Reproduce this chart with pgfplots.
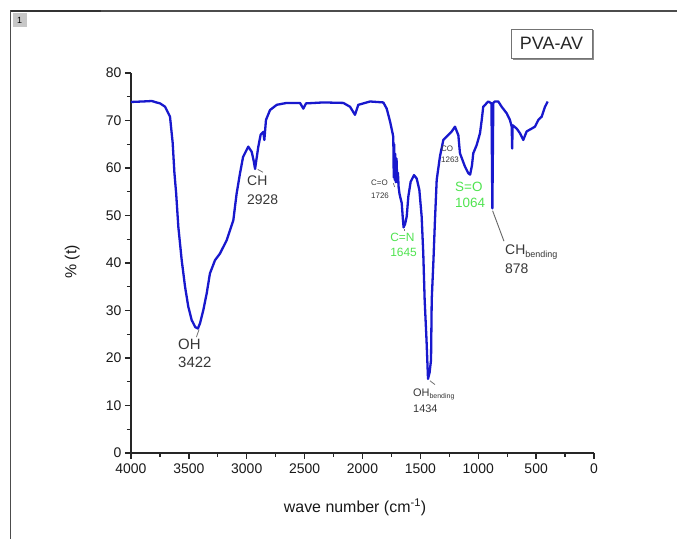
\documentclass[border=0pt]{standalone}
\usepackage{pgfplots}
\pgfplotsset{compat=1.18}
\usepackage{fontspec}
\setmainfont{Liberation Sans}
\definecolor{irblue}{RGB}{24,24,205}
\definecolor{txtgray}{RGB}{55,55,55}
\definecolor{lblgreen}{RGB}{80,228,80}
\newcommand\fs[2]{\fontsize{#1}{#2}\selectfont}
\pgfplotstableread{
wn val
4000 73.9
3900 74.0
3820 74.1
3780 73.8
3749 73.6
3706 72.9
3663 70.8
3640 65.3
3625 59.0
3610 54.7
3591 47.6
3562 40.6
3533 35.0
3505 30.8
3476 28.0
3445 26.5
3422 26.2
3404 27.3
3375 30.1
3346 33.6
3318 37.8
3274 40.6
3231 42.0
3173 44.8
3116 49.0
3087 54.7
3058 58.9
3032 62.3
2987 64.5
2957 63.4
2940 61.5
2928 59.8
2915 62.0
2900 64.5
2880 67.0
2857 67.6
2848 65.9
2834 70.1
2799 72.2
2741 73.3
2655 73.7
2540 73.7
2511 72.5
2488 73.6
2339 73.8
2166 73.7
2108 72.9
2065 71.2
2036 73.3
1935 74.0
1820 73.8
1791 72.5
1762 69.8
1740 67.3
1734 66.5
1730 58.0
1727 65.0
1722 57.5
1718 63.0
1712 57.0
1706 62.0
1700 57.0
1694 59.0
1688 56.0
1680 54.5
1661 52.6
1652 49.5
1645 47.5
1632 48.2
1618 49.8
1604 54.0
1584 57.1
1555 58.5
1532 57.8
1509 55.4
1489 49.8
1475 42.0
1463 32.2
1447 23.8
1434 15.6
1420 17.0
1408 19.6
1402 32.2
1387 40.6
1374 49.0
1359 57.5
1331 62.4
1302 65.9
1273 66.6
1229 67.7
1201 68.7
1172 66.9
1158 63.1
1115 60.3
1086 58.9
1070 58.6
1054 60.6
1043 63.1
1014 64.8
985 67.3
970 70.1
957 72.9
913 74.0
886 73.6
878 51.5
870 73.7
856 74.0
827 74.0
798 72.9
754 71.5
726 70.1
711 68.7
707 64.1
703 69.0
668 68.3
639 67.3
611 65.9
582 67.7
538 68.3
510 68.7
481 70.1
452 70.8
423 72.9
400 74.0
}\spectrum
\begin{document}
\begin{tikzpicture}[x=1bp,y=1bp]
\useasboundingbox (0,0) rectangle (677,539);
\fill[white] (0,0) rectangle (677,539);
% outer frame
\draw[line width=1.6, black!70] (10.5,0) -- (10.5,528) -- (677,528);
\draw[line width=2.2, black!80] (10.5,528) -- (101,528);
\fill[black!22] (12.5,512) rectangle (27,525.5);
\node[font=\fs{9}{10}, text=black, inner sep=0] at (19.5,518.5) {1};
% PVA-AV box
\fill[black!45] (513,479) rectangle (594,509);
\draw[line width=0.9, black!55, fill=white] (511,481) rectangle (592,510);
\node[font=\fs{18}{20}, inner sep=0, text=black!85] at (551.5,495.5) {PVA-AV};
\begin{axis}[
  at={(131bp,86bp)}, anchor=south west,
  scale only axis, width=463bp, height=380bp,
  xmin=0, xmax=4000, x dir=reverse,
  ymin=0, ymax=80,
  axis x line*=bottom, axis y line*=left,
  axis line style={-, line width=1.8bp, black!85},
  xtick={0,500,...,4000}, ytick={0,10,...,80},
  minor x tick num=1, minor y tick num=1,
  tick align=outside,
  major tick length=6bp, minor tick length=4bp,
  every tick/.style={line width=1.3bp, black!85},
  tick label style={font=\fs{14}{16}, text=black!90},
  /pgf/number format/assume math mode=true,
  /pgf/number format/1000 sep={},
  xticklabel style={yshift=-1bp},
  clip=false,
]
\addplot[irblue, line width=2.3bp, line join=round, mark=none] table[x=wn, y=val] {\spectrum};
% axis labels
\node[font=\fs{16}{18}, text=black!90] at (axis description cs:0.484,-0.142) {wave number (cm\textsuperscript{-1})};
\node[font=\fs{16}{18}, text=black!90, rotate=90] at (axis description cs:-0.127,0.503) {\% (t)};
% leader lines
\draw[black!55, line width=0.8bp] (axis cs:3412,26.0) -- (axis cs:3435,24.4);
\draw[black!55, line width=0.8bp] (axis cs:2905,59.7) -- (axis cs:2860,59.1);
\draw[black!55, line width=0.7bp] (axis cs:1734,56.8) -- (axis cs:1722,56.0);
\draw[black!55, line width=0.8bp] (axis cs:1640,47.1) -- (axis cs:1640,46.8);
\draw[black!55, line width=0.8bp] (axis cs:1417,15.2) -- (axis cs:1374,14.4);
\draw[black!60, line width=0.9bp] (axis cs:876,51.0) -- (axis cs:778,44.6);
% annotations
\node[anchor=north west, inner sep=0, align=left, text=txtgray, font=\fs{15}{18}] at (axis cs:3594,24.0) {OH\\3422};
\node[anchor=north west, inner sep=0, align=left, text=txtgray, font=\fs{14}{20}] at (axis cs:2998,58.5) {CH\\2928};
\node[anchor=north west, inner sep=0, align=left, text=txtgray, font=\fs{8}{12.5}] at (axis cs:1927,57.5) {C=O\\1726};
\node[anchor=north west, inner sep=0, align=left, text=lblgreen, font=\fs{12}{15}] at (axis cs:1762,46.4) {C=N\\1645};
\node[anchor=north west, inner sep=0, align=left, text=txtgray, font=\fs{11}{16}] at (axis cs:1564,13.5) {OH{\fs{7}{8}\raisebox{-0.5ex}{bending}}\\1434};
\node[anchor=north west, inner sep=0, align=left, text=txtgray, font=\fs{8}{10.5}] at (axis cs:1322,64.6) {CO\\1263};
\node[anchor=north west, inner sep=0, align=left, text=lblgreen, font=\fs{13.5}{16.6}] at (axis cs:1201,57.1) {S=O\\1064};
\node[anchor=north west, inner sep=0, align=left, text=txtgray, font=\fs{14}{18.5}] at (axis cs:769,43.8) {CH{\fs{9}{10}\raisebox{-0.5ex}{bending}}\\878};
\end{axis}
\end{tikzpicture}
\end{document}
